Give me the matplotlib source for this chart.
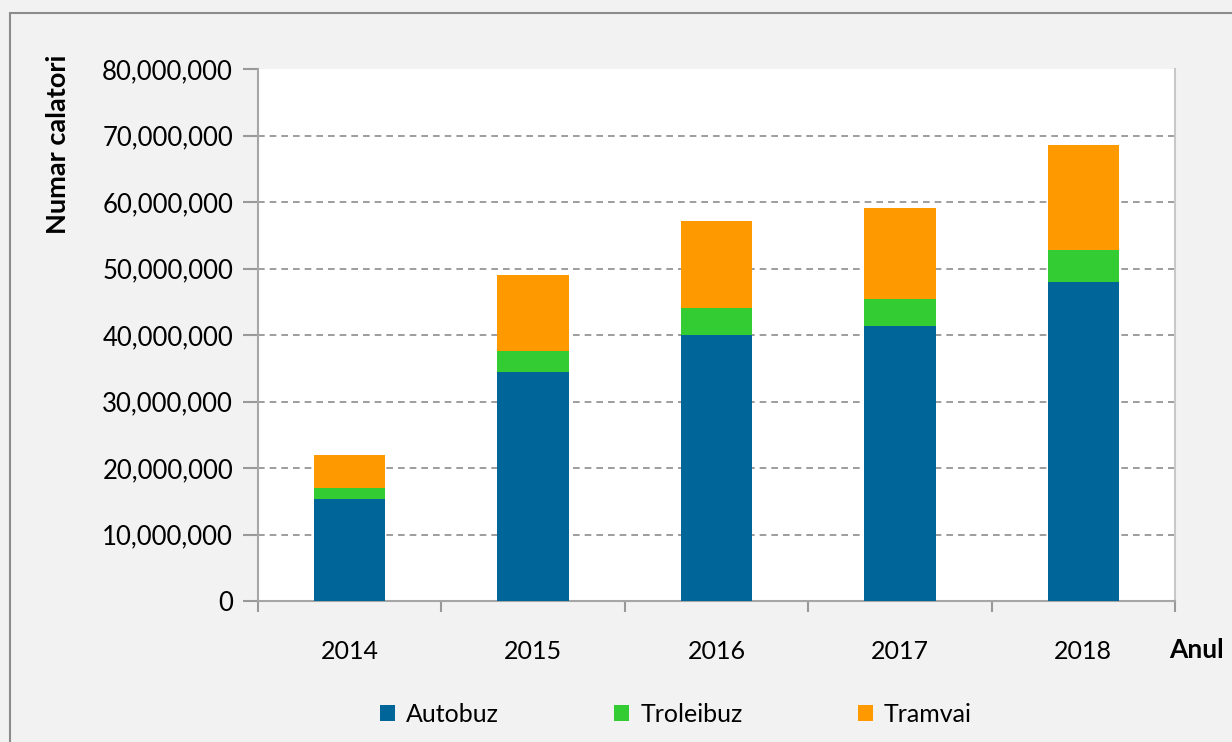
import matplotlib.pyplot as plt
import numpy as np
from matplotlib.patches import Rectangle
from matplotlib.ticker import FuncFormatter, FixedLocator

years = ["2014", "2015", "2016", "2017", "2018"]
autobuz = [15_300_000, 34_400_000, 40_000_000, 41_400_000, 47_900_000]
troleibuz = [1_700_000, 3_200_000, 4_000_000, 4_000_000, 4_900_000]
tramvai = [5_000_000, 11_400_000, 13_100_000, 13_700_000, 15_800_000]

colors = {"Autobuz": "#006699", "Troleibuz": "#33cc33", "Tramvai": "#ff9900"}

plt.rcParams["font.family"] = ["Lato", "DejaVu Sans"]

fig = plt.figure(figsize=(12.32, 7.42), dpi=100)
fig.patch.set_facecolor("#f2f2f2")

# outer chart border (left/top edges visible, rest cut off)
fig.patches.append(Rectangle((10 / 1232, -0.05), 1.2, 1 - 13 / 742 + 0.05,
                             transform=fig.transFigure, fill=False,
                             edgecolor="#8c8c8c", linewidth=1.5))

ax = fig.add_axes([258 / 1232, 1 - 601 / 742, (1175 - 258) / 1232, (601 - 69) / 742])
ax.set_facecolor("white")

x = np.arange(len(years))
w = 0.39
bottom2 = np.array(autobuz)
bottom3 = bottom2 + np.array(troleibuz)
ax.bar(x, autobuz, w, color=colors["Autobuz"], label="Autobuz", zorder=3)
ax.bar(x, troleibuz, w, bottom=bottom2, color=colors["Troleibuz"], label="Troleibuz", zorder=3)
ax.bar(x, tramvai, w, bottom=bottom3, color=colors["Tramvai"], label="Tramvai", zorder=3)

ax.set_xlim(-0.5, len(years) - 0.5)
ax.set_ylim(0, 80_000_000)
ax.set_yticks(np.arange(0, 80_000_001, 10_000_000))
ax.yaxis.set_major_formatter(FuncFormatter(lambda v, p: f"{int(v):,}"))

ax.set_xticks(x)
ax.set_xticklabels(years)
ax.xaxis.set_minor_locator(FixedLocator(np.arange(-0.5, len(years), 1)))
ax.tick_params(axis="x", which="major", length=0, pad=28, labelsize=18)
ax.tick_params(axis="x", which="minor", length=8, width=1.5, color="#999999", direction="out")
ax.tick_params(axis="y", length=11, width=1.5, color="#999999", labelsize=18.5, pad=7)

ax.grid(axis="y", linestyle=(0, (4, 3)), color="#8c8c8c", linewidth=1.2, zorder=0)
ax.get_ygridlines()[-1].set_visible(False)

for side in ["left", "bottom", "right"]:
    ax.spines[side].set_color("#a6a6a6")
    ax.spines[side].set_linewidth(1.5)
ax.spines["right"].set_color("#c8c8c8")
ax.spines["top"].set_visible(False)

fig.text(58 / 1232, 1 - 144 / 742, "Numar calatori", rotation=90, fontsize=19.5,
         fontweight="bold", ha="center", va="center")
fig.text(1196 / 1232, 1 - 650 / 742, "Anul", fontsize=19, fontweight="bold",
         ha="center", va="center")

fig.legend(loc="center", bbox_to_anchor=(676 / 1232, 1 - 714 / 742), ncol=3,
           frameon=False, fontsize=18, handlelength=0.6, handleheight=0.6,
           handletextpad=0.45, columnspacing=4.6)

fig.savefig("out.png", dpi=100, facecolor=fig.get_facecolor())
